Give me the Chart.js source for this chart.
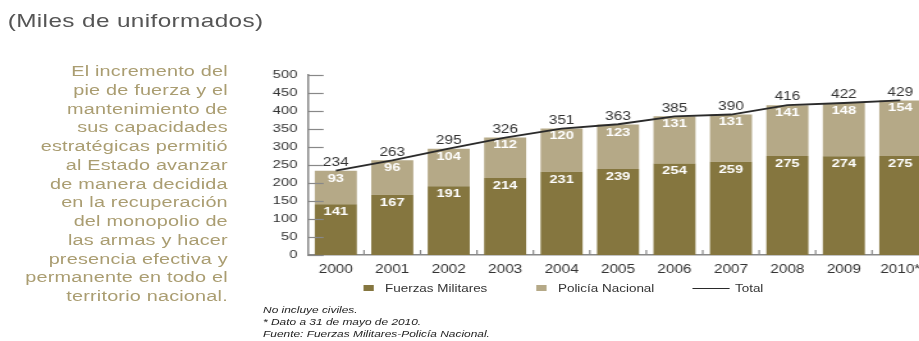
<!DOCTYPE html>
<html>
<head>
<meta charset="utf-8">
<script src="https://cdn.jsdelivr.net/npm/chart.js@4"></script>
<style>
  html, body { margin: 0; padding: 0; background: #fff; overflow: hidden; }
  body { width: 919px; height: 341px; position: relative; font-family: "Liberation Sans", Arial, sans-serif; }
  /* the whole page is drawn narrow and widened horizontally */
  #page { position: absolute; left: 0; top: 0; width: 718px; height: 341px; transform: scaleX(1.28); transform-origin: 0 0; }
  #title { position: absolute; left: 6px; top: 10px; font-size: 19px; line-height: 22px; letter-spacing: 0.3px; color: #555; white-space: nowrap; }
  #intro { position: absolute; left: 0; top: 62px; width: 178px; text-align: right; font-size: 15.5px; line-height: 18.75px; letter-spacing: 0.15px; color: #aa9d71; white-space: nowrap; }
  #chart { position: absolute; left: 195px; top: 60px; }
  #legend { position: absolute; left: 0; top: 282px; height: 12px; font-size: 10.5px; color: #333; }
  #legend .item { position: absolute; top: 0; white-space: nowrap; line-height: 12px; }
  #legend .box { position: absolute; top: 3px; width: 8.6px; height: 6px; }
  #legend .line { position: absolute; top: 5.5px; height: 1.5px; }
  #notes { position: absolute; left: 205.5px; top: 304px; font-size: 9.3px; line-height: 12px; font-style: italic; color: #222; white-space: nowrap; }
</style>
</head>
<body>
<div id="page">
  <div id="title">(Miles de uniformados)</div>
  <div id="intro">
    El incremento del<br>
    pie de fuerza y el<br>
    mantenimiento de<br>
    sus capacidades<br>
    estratégicas permitió<br>
    al Estado avanzar<br>
    de manera decidida<br>
    en la recuperación<br>
    del monopolio de<br>
    las armas y hacer<br>
    presencia efectiva y<br>
    permanente en todo el<br>
    territorio nacional.
  </div>
  <canvas id="chart" width="535" height="222"></canvas>
  <div id="legend"></div>
  <div id="notes">
    No incluye civiles.<br>
    * Dato a 31 de mayo de 2010.<br>
    Fuente: Fuerzas Militares-Policía Nacional.
  </div>
</div>
<script>
const years = ['2000', '2001', '2002', '2003', '2004', '2005', '2006', '2007', '2008', '2009', '2010*'];
const fuerzasMilitares = [141, 167, 191, 214, 231, 239, 254, 259, 275, 274, 275];
const policiaNacional = [93, 96, 104, 112, 120, 123, 131, 131, 141, 148, 154];
const total = [234, 263, 295, 326, 351, 363, 385, 390, 416, 422, 429];
const yTicks = [0, 50, 100, 150, 200, 250, 300, 350, 400, 450, 500];

const darkOlive = '#85763f';
const lightOlive = '#b5a987';

// small tick marks drawn inside the plot, plus the value labels
const insideTicks = {
    id: 'insideTicks',
    afterDatasetsDraw(chart) {
        const { ctx, chartArea, scales } = chart;
        const x = scales.x, y = scales.y;
        ctx.save();
        ctx.strokeStyle = '#888';
        ctx.lineWidth = 1.2;
        yTicks.forEach(v => {
            const py = Math.round(y.getPixelForValue(v)) + 0.5;
            ctx.beginPath();
            ctx.moveTo(chartArea.left, py);
            ctx.lineTo(chartArea.left + 12.5, py);
            ctx.stroke();
        });
        for (let i = 1; i < years.length; i++) {
            const px = (x.getPixelForValue(i - 1) + x.getPixelForValue(i)) / 2;
            ctx.beginPath();
            ctx.moveTo(px, chartArea.bottom);
            ctx.lineTo(px, chartArea.bottom - 5);
            ctx.stroke();
        }

        ctx.textAlign = 'center';
        chart.data.datasets.forEach((ds, di) => {
            const meta = chart.getDatasetMeta(di);
            meta.data.forEach((el, i) => {
                if (ds.type === 'line') {
                    ctx.fillStyle = '#333';
                    ctx.font = '12px "Liberation Sans", Arial, sans-serif';
                    ctx.textBaseline = 'bottom';
                    ctx.fillText(ds.data[i], el.x, el.y - 2);
                } else {
                    ctx.fillStyle = '#fff';
                    ctx.font = 'bold 11.5px "Liberation Sans", Arial, sans-serif';
                    ctx.textBaseline = 'top';
                    ctx.fillText(ds.data[i], el.x, el.y + 2);
                }
            });
        });
        ctx.restore();
    }
};

const chart = new Chart(document.getElementById('chart').getContext('2d'), {
    type: 'bar',
    data: {
        labels: years,
        datasets: [{
            type: 'line',
            label: 'Total',
            data: total,
            stack: 'total',
            borderColor: '#2a2a2a',
            borderWidth: 1.8,
            pointRadius: 0,
            tension: 0,
            order: 0
        }, {
            label: 'Fuerzas Militares',
            data: fuerzasMilitares,
            backgroundColor: darkOlive,
            stack: 'uniformados',
            order: 1
        }, {
            label: 'Policía Nacional',
            data: policiaNacional,
            backgroundColor: lightOlive,
            stack: 'uniformados',
            order: 1
        }]
    },
    options: {
        responsive: false,
        animation: false,
        layout: { padding: { top: 13.5, right: 4.6, left: 0, bottom: 0 } },
        datasets: { bar: { categoryPercentage: 1, barPercentage: 0.745 } },
        plugins: { legend: { display: false }, tooltip: { enabled: false } },
        scales: {
            x: {
                stacked: true,
                grid: { display: false, drawTicks: false },
                border: { display: true, color: '#888', width: 1.5 },
                ticks: { color: '#333', padding: 7, font: { family: '"Liberation Sans", Arial, sans-serif', size: 12 } },
                afterFit: s => { s.height = 27; }
            },
            y: {
                stacked: true,
                min: 0,
                max: 500,
                ticks: { stepSize: 50, color: '#333', padding: 8, font: { family: '"Liberation Sans", Arial, sans-serif', size: 11.5 } },
                grid: { display: false, drawTicks: false },
                border: { display: true, color: '#888', width: 1.5 },
                afterFit: s => { s.width = 45.3; }
            }
        }
    },
    plugins: [insideTicks]
});

// legend built from the datasets
const legend = document.getElementById('legend');
const legendPos = { 'Fuerzas Militares': 283.6, 'Policía Nacional': 418.7, 'Total': 540.6 };
chart.data.datasets.forEach(ds => {
    const left = legendPos[ds.label];
    const mark = document.createElement('div');
    if (ds.type === 'line') {
        mark.className = 'line';
        mark.style.width = '29.7px';
        mark.style.background = ds.borderColor;
    } else {
        mark.className = 'box';
        mark.style.background = ds.backgroundColor;
    }
    mark.style.left = left + 'px';
    legend.appendChild(mark);
    const text = document.createElement('div');
    text.className = 'item';
    text.textContent = ds.label;
    text.style.left = (left + (ds.type === 'line' ? 33.6 : 17.2)) + 'px';
    legend.appendChild(text);
});
</script>
</body>
</html>
